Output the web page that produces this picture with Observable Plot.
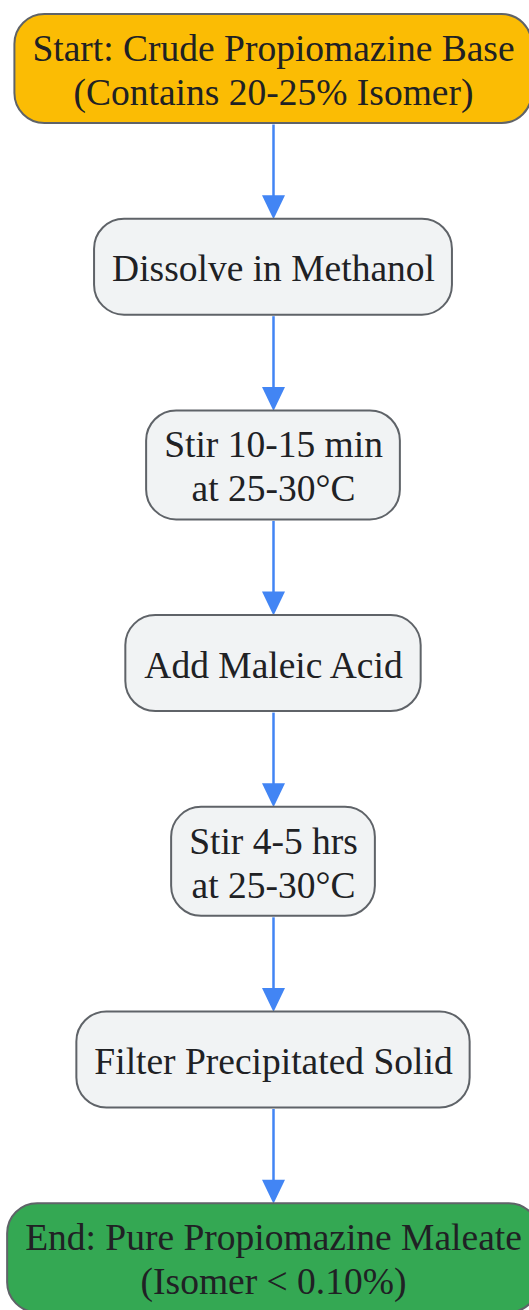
<!DOCTYPE html>
<html>
<head>
<meta charset="utf-8">
<script src="https://cdn.jsdelivr.net/npm/d3@7"></script>
<script src="https://cdn.jsdelivr.net/npm/@observablehq/plot@0.6"></script>
<style>
  html, body { margin: 0; padding: 0; background: #ffffff; overflow: hidden; }
  #chart svg { display: block; }
</style>
</head>
<body>
<div id="chart"></div>
<script>
// ---- data ----
const stepLabels = [
  "Start: Crude Propiomazine Base\n(Contains 20-25% Isomer)",
  "Dissolve in Methanol",
  "Stir 10-15 min\nat 25-30°C",
  "Add Maleic Acid",
  "Stir 4-5 hrs\nat 25-30°C",
  "Filter Precipitated Solid",
  "End: Pure Propiomazine Maleate\n(Isomer < 0.10%)"
];
const stepKinds = ["start", "step", "step", "step", "step", "step", "end"];
const kindNames = ["start", "step", "end"];
const kindColors = ["#FBBC04", "#F1F3F4", "#34A853"];

// ---- layout ----
const W = 529, H = 1310;
const fontSize = 37.5, lineH = 44;
const fontFamily = "'Liberation Serif', 'Times New Roman', serif";
const cx = 273, firstCy = 68.5, gap = 198.2, padX = 17.5;

const ctx = document.createElement("canvas").getContext("2d");
ctx.font = `${fontSize}px ${fontFamily}`;

const nodes = stepLabels.map((label, i) => {
  const lines = label.split("\n");
  const tw = d3.max(lines, l => ctx.measureText(l).width);
  const w = tw + 2 * padX;
  const h = Math.max(96, lines.length * lineH + 21);
  const cy = firstCy + i * gap;
  return {label, kind: stepKinds[i], cx, cy, x1: cx - w / 2, x2: cx + w / 2, y1: cy - h / 2, y2: cy + h / 2};
});
const edges = d3.pairs(nodes).map(([a, b]) => ({x: cx, yStart: a.y2 + 1, yEnd: b.y1 - 22, tip: b.y1}));

const headSymbol = {
  draw(context) {
    context.moveTo(-11.5, -24);
    context.lineTo(11.5, -24);
    context.lineTo(0, 0);
    context.closePath();
  }
};

const chart = Plot.plot({
  width: W,
  height: H,
  margin: 0,
  x: {domain: [0, W], range: [0, W], axis: null},
  y: {domain: [0, H], range: [0, H], axis: null},
  color: {type: "ordinal", domain: kindNames, range: kindColors},
  style: {background: "#ffffff", overflow: "visible"},
  marks: [
    Plot.link(edges, {x1: "x", x2: "x", y1: "yStart", y2: "yEnd", stroke: "#4285F4", strokeWidth: 2.5}),
    Plot.dot(edges, {x: "x", y: "tip", symbol: headSymbol, fill: "#4285F4", stroke: null, r: 10}),
    Plot.rect(nodes, {x1: "x1", x2: "x2", y1: "y1", y2: "y2", fill: "kind", stroke: "#5f6368", strokeWidth: 2, rx: 30}),
    Plot.text(nodes, {x: "cx", y: "cy", text: "label", fontSize, fontFamily, lineHeight: lineH / fontSize, fill: "#202124", textAnchor: "middle"})
  ]
});
document.getElementById("chart").appendChild(chart);
</script>
</body>
</html>
